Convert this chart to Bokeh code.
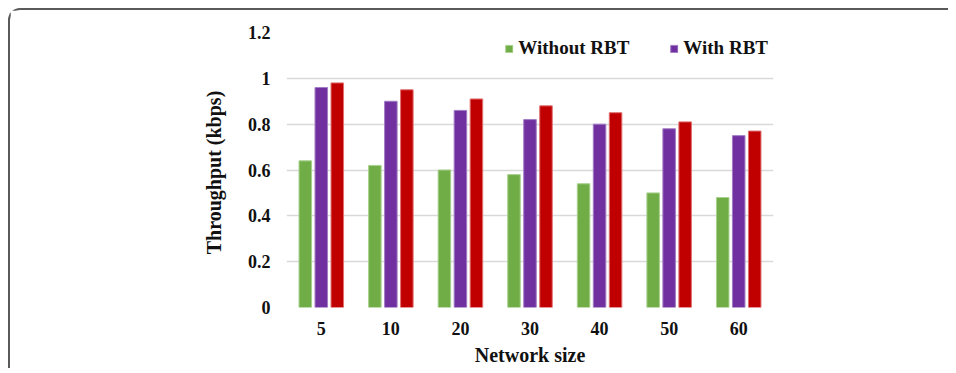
from bokeh.plotting import figure
from bokeh.models import FactorRange, FixedTicker, CustomJSTickFormatter, Legend, LegendItem, ColumnDataSource
from bokeh.transform import dodge
from bokeh.embed import file_html
from bokeh.resources import INLINE

categories = ["5", "10", "20", "30", "40", "50", "60"]
without_rbt = [0.64, 0.62, 0.60, 0.58, 0.54, 0.50, 0.48]
with_rbt = [0.96, 0.90, 0.86, 0.82, 0.80, 0.78, 0.75]
third_series = [0.98, 0.95, 0.91, 0.88, 0.85, 0.81, 0.77]
y_ticks = [0, 0.2, 0.4, 0.6, 0.8, 1.0, 1.2]

source = ColumnDataSource(dict(cat=categories, g=without_rbt, p=with_rbt, r=third_series))

FONT = "Liberation Serif"

p = figure(x_range=FactorRange(factors=categories), y_range=(0, 1.2),
           frame_width=487, frame_height=275,
           min_border_left=276, min_border_right=175, min_border_top=22, min_border_bottom=58,
           output_backend="svg", toolbar_location=None, tools="")
p.styles = {"margin-left": "8px", "margin-top": "8px",
            "border-top": "2px solid #5a5a5a", "border-left": "2px solid #5a5a5a",
            "border-top-left-radius": "12px", "box-sizing": "border-box"}

p.outline_line_color = None
p.background_fill_color = "white"
p.border_fill_color = "white"

g = p.vbar(x=dodge("cat", -0.23, range=p.x_range), top="g", width=0.18, source=source,
           fill_color="#70ad47", line_color="#a9d18e", line_width=1)
pu = p.vbar(x=dodge("cat", 0.0, range=p.x_range), top="p", width=0.18, source=source,
            fill_color="#7030a0", line_color="#a27cc4", line_width=1)
r = p.vbar(x=dodge("cat", 0.23, range=p.x_range), top="r", width=0.18, source=source,
           fill_color="#c00000", line_color="#e07070", line_width=1)

p.xgrid.grid_line_color = None
p.ygrid.grid_line_color = "#d9d9d9"
p.ygrid.grid_line_width = 1.5
p.yaxis.ticker = FixedTicker(ticks=y_ticks)
p.yaxis.formatter = CustomJSTickFormatter(code="return String(Math.round(tick*10)/10);")

for ax in (p.xaxis[0], p.yaxis[0]):
    ax.axis_line_color = None
    ax.major_tick_line_color = None
    ax.minor_tick_line_color = None
    ax.major_tick_out = 0
    ax.major_tick_in = 0
    ax.minor_tick_out = 0
    ax.major_label_text_font = FONT
    ax.major_label_text_font_style = "bold"
    ax.major_label_text_font_size = "18px"
    ax.major_label_text_color = "#111111"
    ax.axis_label_text_font = FONT
    ax.axis_label_text_font_style = "bold"
    ax.axis_label_text_font_size = "20px"
    ax.axis_label_text_color = "#111111"

p.xaxis.axis_label = "Network size"
p.xaxis.major_label_standoff = 14
p.xaxis.axis_label_standoff = 6
p.yaxis.axis_label = "Throughput  (kbps)"
p.yaxis.major_label_standoff = 16
p.yaxis.axis_label_standoff = 20

legend = Legend(items=[LegendItem(label="Without RBT", renderers=[g]),
                       LegendItem(label="With RBT", renderers=[pu])],
                location="top_right", orientation="horizontal",
                label_text_font=FONT, label_text_font_style="bold", label_text_font_size="19px",
                label_text_color="#111111",
                glyph_width=9, glyph_height=9, label_standoff=5, spacing=40,
                padding=0, margin=5, border_line_color=None, background_fill_alpha=0)
p.add_layout(legend)

open("out.html", "w").write(file_html(p, INLINE))
